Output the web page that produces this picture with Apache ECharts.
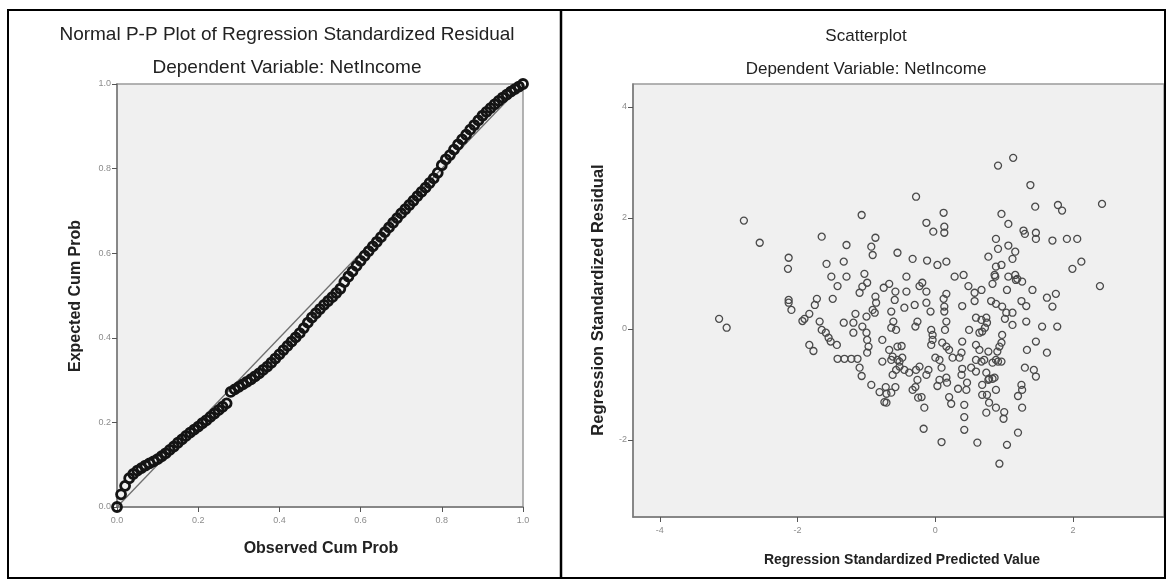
<!DOCTYPE html>
<html>
<head>
<meta charset="utf-8">
<script src="https://cdn.jsdelivr.net/npm/echarts@6/dist/echarts.min.js"></script>
<style>
  html, body { margin: 0; padding: 0; background: #fff; }
  #chart { width: 1167px; height: 581px; }
</style>
</head>
<body>
<div id="chart"></div>
<script>
// Normal P-P plot: observed vs expected cumulative probability
var ppObserved = [
  0.00, 0.01, 0.02, 0.03, 0.04, 0.05, 0.06, 0.07, 0.08, 0.09,
  0.10, 0.11, 0.12, 0.13, 0.14, 0.15, 0.16, 0.17, 0.18, 0.19,
  0.20, 0.21, 0.22, 0.23, 0.24, 0.25, 0.26, 0.27, 0.28, 0.29,
  0.30, 0.31, 0.32, 0.33, 0.34, 0.35, 0.36, 0.37, 0.38, 0.39,
  0.40, 0.41, 0.42, 0.43, 0.44, 0.45, 0.46, 0.47, 0.48, 0.49,
  0.50, 0.51, 0.52, 0.53, 0.54, 0.55, 0.56, 0.57, 0.58, 0.59,
  0.60, 0.61, 0.62, 0.63, 0.64, 0.65, 0.66, 0.67, 0.68, 0.69,
  0.70, 0.71, 0.72, 0.73, 0.74, 0.75, 0.76, 0.77, 0.78, 0.79,
  0.80, 0.81, 0.82, 0.83, 0.84, 0.85, 0.86, 0.87, 0.88, 0.89,
  0.90, 0.91, 0.92, 0.93, 0.94, 0.95, 0.96, 0.97, 0.98, 0.99,
  1.00
];
var ppExpected = [
  0.000, 0.030, 0.050, 0.068, 0.078, 0.086, 0.092, 0.098, 0.103, 0.108,
  0.113, 0.120, 0.127, 0.135, 0.143, 0.152, 0.160, 0.168, 0.176, 0.183,
  0.190, 0.198, 0.205, 0.213, 0.221, 0.229, 0.237, 0.245, 0.272, 0.278,
  0.284, 0.290, 0.296, 0.302, 0.309, 0.316, 0.324, 0.332, 0.341, 0.351,
  0.361, 0.371, 0.381, 0.391, 0.401, 0.411, 0.423, 0.436, 0.448, 0.458,
  0.468, 0.478, 0.487, 0.496, 0.506, 0.516, 0.532, 0.545, 0.557, 0.570,
  0.582, 0.594, 0.605, 0.616, 0.627, 0.638, 0.650, 0.661, 0.672, 0.683,
  0.694, 0.704, 0.714, 0.724, 0.735, 0.745, 0.755, 0.766, 0.777, 0.790,
  0.808, 0.822, 0.832, 0.845, 0.857, 0.869, 0.880, 0.892, 0.903, 0.914,
  0.925, 0.934, 0.943, 0.952, 0.960, 0.968, 0.975, 0.982, 0.988, 0.994,
  1.000
];
var ppReference = [0, 1];

// Scatterplot: [standardized predicted value, standardized residual]
var residualPoints = [
  [-2.78,1.95],[-2.55,1.55],[-2.13,1.28],[-2.14,1.08],[-1.65,1.66],[-1.29,1.51],[-1.58,1.17],[-1.33,1.21],
  [-1.07,2.05],[-0.87,1.64],[-0.93,1.48],[-0.91,1.33],[-0.55,1.37],[-1.51,0.94],[-1.29,0.94],[-1.42,0.77],
  [-1.03,0.99],[-0.99,0.83],[-1.06,0.76],[-1.10,0.65],[-0.75,0.74],[-0.67,0.81],[-0.58,0.67],[-0.87,0.58],
  [-1.72,0.54],[-1.49,0.54],[-2.13,0.52],
  [0.91,2.94],[1.13,3.08],[1.38,2.59],[-0.28,2.38],[1.45,2.20],[1.78,2.23],[1.84,2.13],[2.42,2.25],
  [0.12,2.09],[0.96,2.07],[-0.13,1.91],[0.13,1.84],[0.13,1.73],[-0.03,1.75],[1.06,1.89],[1.28,1.77],
  [1.30,1.71],[1.46,1.73],[1.46,1.62],[1.70,1.59],[1.91,1.62],[2.06,1.62],[0.88,1.62],[0.91,1.44],
  [1.06,1.50],[1.16,1.39],[1.12,1.26],[0.77,1.30],[-0.33,1.26],[-0.12,1.23],[0.03,1.15],[0.16,1.21],
  [2.12,1.21],[1.99,1.08],[2.39,0.77],[-0.42,0.94],[0.28,0.94],[0.41,0.97],[0.88,1.12],[0.96,1.15],
  [0.86,0.97],[0.87,0.94],[1.06,0.94],[1.16,0.97],[1.19,0.90],[1.26,0.85],[0.83,0.81],[0.48,0.77],
  [0.67,0.70],[0.57,0.65],[1.41,0.70],[1.75,0.63],[1.62,0.56],[-0.42,0.67],[-0.23,0.77],[-0.19,0.83],
  [-0.13,0.67],[0.16,0.63],[1.04,0.70],[1.17,0.88],
  [-3.14,0.18],[-3.03,0.02],[-2.13,0.47],[-2.09,0.34],[-1.75,0.43],[-1.90,0.18],[-1.83,0.27],[-1.93,0.14],
  [-1.68,0.13],[-1.65,-0.02],[-1.59,-0.07],[-1.55,-0.16],[-1.52,-0.23],[-1.83,-0.29],[-1.77,-0.40],[-1.43,-0.29],
  [-1.33,0.11],[-1.42,-0.54],[-1.32,-0.54],[-1.22,-0.54],[-1.13,-0.54],[-1.10,-0.70],[-1.07,-0.85],[-1.16,0.27],
  [-1.19,0.11],[-1.19,-0.07],[-1.06,0.04],[-1.00,-0.07],[-0.99,-0.20],[-0.97,-0.32],[-0.99,-0.43],[-0.93,-1.01],
  [-0.81,-1.14],[-0.72,-1.05],[-0.71,-1.17],[-0.74,-1.32],[-0.71,-1.33],[-1.00,0.22],[-0.88,0.29],[-0.91,0.34],
  [-0.77,-0.20],[-0.77,-0.59],[-0.64,-0.56],[-0.62,-0.83],[-0.58,-1.05],[-0.64,0.31],[-0.61,0.13],[-0.57,-0.02],
  [-0.86,0.47],[-0.67,-0.38],[-0.55,-0.32],
  [1.70,0.40],[1.25,0.50],[1.32,0.41],[1.77,0.04],[1.55,0.04],[1.32,0.13],[1.46,-0.23],[1.33,-0.38],
  [1.62,-0.43],[1.30,-0.70],[1.43,-0.74],[1.46,-0.86],[1.25,-1.01],[1.26,-1.10],[1.20,-1.21],[1.26,-1.42],
  [1.20,-1.87],[1.04,-2.09],[0.93,-2.43],[1.00,-1.50],[0.99,-1.62],[0.88,-1.42],[0.74,-1.51],[0.61,-2.05],
  [0.42,-1.37],[0.42,-1.59],[0.42,-1.82],[0.09,-2.04],[-0.17,-1.80],[-0.16,-1.42],[0.20,-1.23],[0.23,-1.35],
  [0.75,-1.19],[0.78,-1.33],[0.88,-1.10],[0.86,-0.88],[0.78,-0.90],[0.68,-1.19],[0.68,-1.01],[0.59,-0.77],
  [0.52,-0.70],[0.46,-0.97],[0.33,-1.08],[0.45,-1.10],[0.38,-0.83],[0.39,-0.72],[0.38,-0.43],[0.39,-0.23],
  [0.16,-0.88],[0.17,-0.97],[0.06,-0.92],[0.03,-1.03],[0.09,-0.70],[0.06,-0.56],[0.00,-0.52],[-0.13,-0.83],
  [-0.10,-0.74],[-0.20,-1.23],[-0.25,-1.24],[-0.33,-1.10],[-0.29,-1.05],[-0.26,-0.92],[-0.28,-0.74],[-0.23,-0.68],
  [-0.38,-0.79],[-0.45,-0.74],[-0.52,-0.68],[-0.55,-0.56],[-0.48,-0.52],[-0.64,-1.15],[-0.49,-0.31],[-0.64,0.02],
  [-0.45,0.38],[-0.59,0.52],[-0.30,0.43],[-0.13,0.47],[-0.07,0.31],[-0.26,0.13],[-0.29,0.04],[-0.06,-0.02],
  [-0.04,-0.11],[-0.04,-0.20],[-0.06,-0.29],[0.12,0.54],[0.13,0.40],[0.13,0.31],[0.16,0.13],[0.14,-0.02],
  [0.10,-0.25],[0.16,-0.32],[0.20,-0.38],[0.25,-0.52],[0.35,-0.52],[0.39,0.41],[0.57,0.50],[0.81,0.50],
  [0.88,0.45],[0.97,0.40],[1.03,0.29],[1.01,0.18],[1.12,0.29],[1.12,0.07],[0.97,-0.11],[0.96,-0.25],
  [0.93,-0.32],[0.90,-0.41],[0.91,-0.59],[0.96,-0.59],[0.59,0.20],[0.67,0.16],[0.74,0.20],[0.75,0.11],
  [0.72,0.02],[0.68,-0.05],[0.64,-0.07],[0.59,-0.29],[0.64,-0.38],[0.71,-0.56],[0.59,-0.56],[0.67,-0.59],
  [0.49,-0.02],[0.77,-0.41],[0.83,-0.61],[0.88,-0.56],[0.74,-0.79],[0.77,-0.92],[0.83,-0.90],[-0.62,-0.50],
  [-0.52,-0.59],[-0.57,-0.74]
];
var predictedRange = [-4.39, 3.32];
var residualRange = [-3.39, 4.41];
var predictedTicks = [-4, -2, 0, 2];
var residualTicks = [-2, 0, 2, 4];

var FONT = '"Liberation Sans", Arial, sans-serif';

let chart = echarts.init(document.getElementById('chart'));

let ppData = ppObserved.map(function (v, i) { return [v, ppExpected[i]]; });
let refData = ppReference.map(function (v) { return [v, v]; });

// shared axis look (SPSS style)
function axisLook () {
  return {
    axisLine: { show: true, onZero: false, lineStyle: { color: '#7a7a7a', width: 1.5 } },
    axisTick: { show: true, length: 5, lineStyle: { color: '#555', width: 1 } },
    axisLabel: { fontSize: 9, color: '#8c8c8c', fontFamily: FONT, margin: 6 },
    splitLine: { show: false }
  };
}

let ppX = Object.assign(axisLook(), { type: 'value', gridIndex: 0, min: 0, max: 1, interval: 0.2 });
ppX.axisLabel.formatter = function (v) { return v.toFixed(1); };
ppX.axisLabel.margin = 9;
let ppY = Object.assign(axisLook(), { type: 'value', gridIndex: 0, min: 0, max: 1, interval: 0.2 });
ppY.axisLabel.formatter = function (v) { return v.toFixed(1); };

let scX = Object.assign(axisLook(), { type: 'value', gridIndex: 1, min: predictedRange[0], max: predictedRange[1] });
scX.axisTick.customValues = predictedTicks;
scX.axisLabel.customValues = predictedTicks;
scX.axisLabel.margin = 9;
let scY = Object.assign(axisLook(), { type: 'value', gridIndex: 1, min: residualRange[0], max: residualRange[1] });
scY.axisTick.customValues = residualTicks;
scY.axisLabel.customValues = residualTicks;

function label (text, x, y, size, weight, rot) {
  return {
    type: 'text', x: x, y: y, rotation: rot || 0, z: 50,
    style: {
      text: text, fill: '#222', fontSize: size, fontWeight: weight || 'normal',
      fontFamily: FONT, align: 'center', verticalAlign: 'middle'
    }
  };
}

chart.setOption({
  animation: false,
  backgroundColor: '#fff',
  grid: [
    { left: 117, top: 84, width: 406, height: 423, show: true,
      backgroundColor: '#f0f0f0', borderColor: '#9a9a9a', borderWidth: 1.5 },
    { left: 633, top: 84, width: 531, height: 433, show: true,
      backgroundColor: '#f0f0f0', borderColor: '#9a9a9a', borderWidth: 1.5 }
  ],
  xAxis: [ppX, scX],
  yAxis: [ppY, scY],
  series: [
    {
      type: 'line', xAxisIndex: 0, yAxisIndex: 0, data: refData,
      symbol: 'none', lineStyle: { color: '#6f6f6f', width: 1.3 }, z: 1
    },
    {
      type: 'scatter', xAxisIndex: 0, yAxisIndex: 0, data: ppData,
      symbol: 'circle', symbolSize: 9,
      itemStyle: { color: 'rgba(0,0,0,0)', borderColor: '#141414', borderWidth: 2.8, opacity: 1 },
      z: 2
    },
    {
      type: 'scatter', xAxisIndex: 1, yAxisIndex: 1, data: residualPoints,
      symbol: 'circle', symbolSize: 7,
      itemStyle: { color: 'rgba(0,0,0,0)', borderColor: '#4a4a4a', borderWidth: 1.3, opacity: 1 },
      z: 2
    }
  ],
  graphic: [
    { type: 'rect', z: 60, shape: { x: 8, y: 10, width: 1157, height: 568 },
      style: { fill: 'none', stroke: '#000', lineWidth: 2 } },
    { type: 'line', z: 60, shape: { x1: 561, y1: 10, x2: 561, y2: 578 },
      style: { stroke: '#000', lineWidth: 2.5 } },
    label('Normal P-P Plot of Regression Standardized Residual', 287, 35, 19),
    label('Dependent Variable: NetIncome', 287, 68, 19),
    label('Observed Cum Prob', 321, 549, 16, 'bold'),
    label('Expected Cum Prob', 76, 296, 16, 'bold', Math.PI / 2),
    label('Scatterplot', 866, 36, 17),
    label('Dependent Variable: NetIncome', 866, 69, 17),
    label('Regression Standardized Predicted Value', 902, 560, 14, 'bold'),
    label('Regression Standardized Residual', 598, 300, 16.5, 'bold', Math.PI / 2)
  ]
});
</script>
</body>
</html>
